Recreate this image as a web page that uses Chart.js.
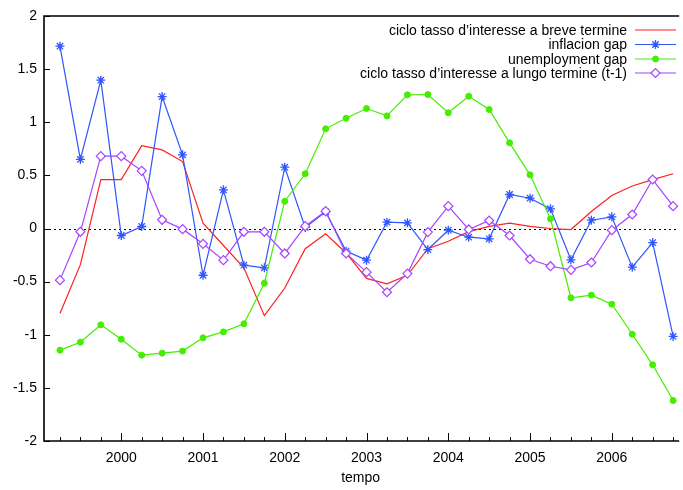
<!DOCTYPE html>
<html>
<head>
<meta charset="utf-8">
<script src="https://cdn.jsdelivr.net/npm/chart.js@4.4.1/dist/chart.umd.min.js"></script>
<style>
  html, body { margin: 0; padding: 0; background: #fff; overflow: hidden; }
  canvas { display: block; }
</style>
</head>
<body>
<canvas id="chart" width="683" height="490"></canvas>
<script>
// trimestri, dal 1999 T2 al 2006 T4
const quarters = [
  1999.25, 1999.5, 1999.75,
  2000, 2000.25, 2000.5, 2000.75,
  2001, 2001.25, 2001.5, 2001.75,
  2002, 2002.25, 2002.5, 2002.75,
  2003, 2003.25, 2003.5, 2003.75,
  2004, 2004.25, 2004.5, 2004.75,
  2005, 2005.25, 2005.5, 2005.75,
  2006, 2006.25, 2006.5, 2006.75
];
const yearTicks = [2000, 2001, 2002, 2003, 2004, 2005, 2006];
const yTickValues = [2, 1.5, 1, 0.5, 0, -0.5, -1, -1.5, -2];

const breveTermine = [
  -0.80, -0.34, 0.46, 0.46, 0.78, 0.74, 0.63, 0.05, -0.16, -0.37, -0.82,
  -0.56, -0.19, -0.05, -0.23, -0.47, -0.52, -0.44, -0.19, -0.12, -0.03,
  0.02, 0.05, 0.02, 0.00, -0.01, 0.16, 0.31, 0.40, 0.46, 0.515
];
const inflazioneGap = [
  1.716, 0.65, 1.396, -0.066, 0.019, 1.242, 0.693, -0.44, 0.364, -0.345, -0.37,
  0.577, 0.01, 0.157, -0.213, -0.298, 0.06, 0.053, -0.198, -0.016, -0.082,
  -0.097, 0.32, 0.285, 0.185, -0.295, 0.078, 0.11, -0.364, -0.132, -1.016
];
const disoccupazioneGap = [
  -1.145, -1.07, -0.907, -1.042, -1.192, -1.173, -1.154, -1.029, -0.973, -0.897, -0.515,
  0.257, 0.515, 0.938, 1.038, 1.129, 1.06, 1.258, 1.261, 1.089, 1.245,
  1.12, 0.806, 0.505, 0.091, -0.652, -0.627, -0.712, -0.995, -1.283, -1.619
];
const lungoTermine = [
  -0.486, -0.031, 0.681, 0.681, 0.543, 0.082, -0.006, -0.144, -0.298, -0.031, -0.031,
  -0.235, 0.022, 0.163, -0.235, -0.411, -0.6, -0.424, -0.034, 0.21, -0.009,
  0.075, -0.066, -0.289, -0.355, -0.389, -0.32, -0.016, 0.132, 0.461, 0.21
];

const FONT = '"Liberation Sans", Arial, Helvetica, sans-serif';

function toPoints(values) {
  return values.map((v, i) => ({ x: quarters[i], y: v }));
}

// bordo, tacche interne e linea dello zero, stile gnuplot
const gnuplotFrame = {
  id: 'gnuplotFrame',
  beforeDatasetsDraw(chart) {
    const { ctx, chartArea: a, scales } = chart;
    const y0 = Math.round(scales.y.getPixelForValue(0)) + 0.5;
    ctx.save();
    ctx.strokeStyle = '#000';
    ctx.lineWidth = 1;
    ctx.setLineDash([2, 3]);
    ctx.beginPath();
    ctx.moveTo(a.left, y0);
    ctx.lineTo(a.right, y0);
    ctx.stroke();
    ctx.restore();
  },
  afterDraw(chart) {
    const { ctx, chartArea: a, scales } = chart;
    ctx.save();
    ctx.strokeStyle = '#000';
    ctx.lineWidth = 1;
    ctx.beginPath();
    yTickValues.forEach(v => {
      const py = Math.round(scales.y.getPixelForValue(v)) + 0.5;
      ctx.moveTo(a.left, py);
      ctx.lineTo(a.left + 6, py);
    });
    quarters.forEach(q => {
      const px = Math.round(scales.x.getPixelForValue(q)) + 0.5;
      const len = yearTicks.includes(q) ? 8 : 4;
      ctx.moveTo(px, a.bottom);
      ctx.lineTo(px, a.bottom - len);
    });
    ctx.stroke();

    ctx.lineWidth = 1.6;
    ctx.beginPath();
    ctx.moveTo(a.right + 2, a.top);
    ctx.lineTo(a.left, a.top);
    ctx.lineTo(a.left, a.bottom);
    ctx.lineTo(a.right + 2, a.bottom);
    ctx.stroke();
    ctx.restore();
  }
};

// legenda in alto a destra, testo allineato a destra
const gnuplotKey = {
  id: 'gnuplotKey',
  afterDraw(chart) {
    const { ctx } = chart;
    const rowY = [30, 44.5, 59, 73];
    const textRight = 627;
    const x1 = 635, x2 = 676;
    ctx.save();
    ctx.font = '14px ' + FONT;
    ctx.textAlign = 'right';
    ctx.textBaseline = 'middle';
    chart.data.datasets.forEach((ds, i) => {
      const y = rowY[i];
      ctx.fillStyle = '#000';
      ctx.fillText(ds.label, textRight, y + 1);
      ctx.strokeStyle = ds.borderColor;
      ctx.lineWidth = ds.borderWidth;
      ctx.beginPath();
      ctx.moveTo(x1, y);
      ctx.lineTo(x2, y);
      ctx.stroke();
      if (ds.pointRadius > 0) {
        ctx.fillStyle = ds.pointBackgroundColor;
        ctx.strokeStyle = ds.borderColor;
        ctx.lineWidth = ds.pointBorderWidth;
        Chart.helpers.drawPoint(ctx, {
          pointStyle: ds.pointStyle,
          radius: ds.pointRadius,
          borderWidth: ds.pointBorderWidth,
          rotation: 0
        }, (x1 + x2) / 2, y);
      }
    });
    ctx.restore();
  }
};

const chart = new Chart(document.getElementById('chart'), {
  type: 'line',
  data: {
    datasets: [
      {
        label: 'ciclo tasso d\u2019interesse a breve termine',
        data: toPoints(breveTermine),
        borderColor: '#ff2020',
        borderWidth: 1.2,
        pointRadius: 0,
        order: 3
      },
      {
        label: 'inflacion gap',
        data: toPoints(inflazioneGap),
        borderColor: '#2f55ff',
        pointBackgroundColor: '#2f55ff',
        borderWidth: 1.2,
        pointStyle: 'star',
        pointRadius: 4.5,
        pointBorderWidth: 1.3,
        order: 2
      },
      {
        label: 'unemployment gap',
        data: toPoints(disoccupazioneGap),
        borderColor: '#44ee00',
        pointBackgroundColor: '#44ee00',
        borderWidth: 1.2,
        pointStyle: 'circle',
        pointRadius: 3,
        pointBorderWidth: 1,
        order: 1
      },
      {
        label: 'ciclo tasso d\u2019interesse a lungo termine (t-1)',
        data: toPoints(lungoTermine),
        borderColor: '#a545ff',
        pointBackgroundColor: '#ffffff',
        borderWidth: 1.2,
        pointStyle: 'rectRot',
        pointRadius: 4.5,
        pointBorderWidth: 1.2,
        order: 0
      }
    ]
  },
  options: {
    responsive: false,
    animation: false,
    devicePixelRatio: 1,
    clip: false,
    layout: { padding: { top: 16, left: 0, right: 0, bottom: 0 } },
    elements: { line: { tension: 0 } },
    plugins: {
      legend: { display: false },
      tooltip: { enabled: false }
    },
    scales: {
      x: {
        type: 'linear',
        min: 1999.055,
        max: 2006.8,
        grid: { display: false, drawTicks: false },
        border: { display: false },
        afterFit(scale) { scale.height = 49; },
        ticks: {
          stepSize: 1,
          includeBounds: false,
          padding: 9,
          color: '#000',
          font: { family: FONT, size: 14 },
          maxRotation: 0,
          callback: v => Number.isInteger(v) ? String(v) : ''
        },
        title: {
          display: true,
          text: 'tempo',
          color: '#000',
          font: { family: FONT, size: 14 },
          padding: { top: 0, bottom: 3 }
        }
      },
      y: {
        min: -2,
        max: 2,
        grid: { display: false, drawTicks: false },
        border: { display: false },
        afterFit(scale) { scale.width = 44; },
        ticks: {
          stepSize: 0.5,
          padding: 7,
          color: '#000',
          font: { family: FONT, size: 14 },
          callback: v => String(v)
        }
      }
    }
  },
  plugins: [gnuplotFrame, gnuplotKey]
});
</script>
</body>
</html>
